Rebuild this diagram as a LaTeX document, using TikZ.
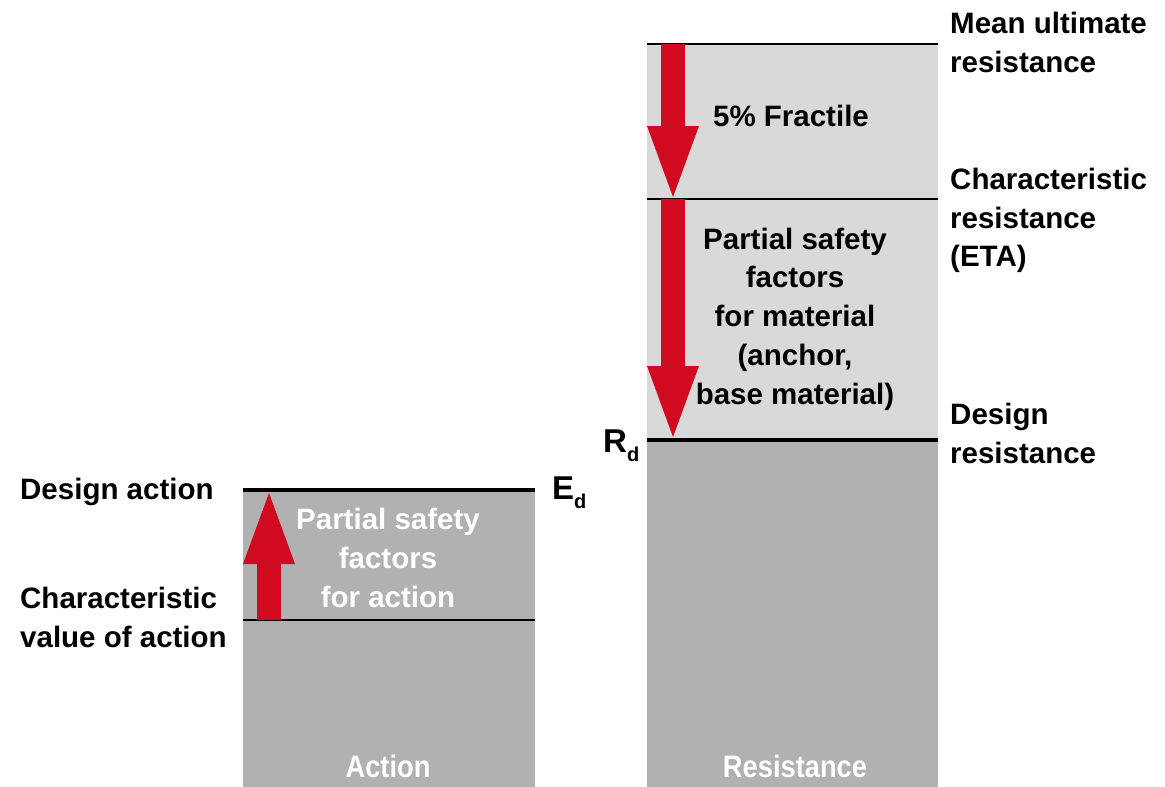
\documentclass[tikz,border=0pt]{standalone}
\usepackage{fontspec}
\setmainfont{Liberation Sans}
\newfontfamily\estrecha{Liberation Sans}[FakeStretch=0.88]
\usetikzlibrary{arrows.meta}
\definecolor{grisclaro}{HTML}{D9D9D9}
\definecolor{grisoscuro}{HTML}{B1B1B1}
\definecolor{rojo}{HTML}{D20A1F}
\tikzset{
  etiq/.style={font=\fontsize{29.5}{38.5}\selectfont\bfseries, align=left,
    inner sep=0pt, anchor=north west},
  centro/.style={font=\fontsize{29.5}{38.8}\selectfont\bfseries, align=center,
    inner sep=0pt},
  simbolo/.style={font=\fontsize{33}{33}\selectfont\bfseries, inner sep=0pt,
    anchor=base west},
  pie/.style={font=\estrecha\fontsize{31}{31}\selectfont\bfseries,
    text=white, inner sep=0pt},
  flecha/.style={rojo, line width=24pt,
    -{Triangle[width=52pt, length=71pt, line width=0pt]}},
  fina/.style={line width=1.5pt},
  gruesa/.style={line width=4.5pt}
}
\newcommand{\subd}{{\fontsize{20}{20}\selectfont\raisebox{-9pt}{d}}}

\begin{document}
\begin{tikzpicture}[x=1pt, y=-1pt]
  \useasboundingbox (0,0) rectangle (1165,787);
  % Columnas
  \fill[grisoscuro] (243,490) rectangle (535,787);
  \fill[grisclaro] (647,44) rectangle (938,440);
  \fill[grisoscuro] (647,440) rectangle (938,787);
  % Lineas
  \draw[fina] (243,620) -- (535,620);
  \draw[gruesa] (243,490) -- (535,490);
  \draw[fina] (647,44) -- (938,44);
  \draw[fina] (647,199) -- (938,199);
  \draw[gruesa] (647,440) -- (938,440);
  % Flechas
  \coordinate (a0) at (269,620);
  \coordinate (a1) at (269,493);
  \coordinate (r0) at (673,44);
  \coordinate (r1) at (673,197);
  \coordinate (r2) at (673,199);
  \coordinate (r3) at (673,437);
  \draw[flecha] (a0) -- (a1);
  \draw[flecha] (r0) -- (r1);
  \draw[flecha] (r2) -- (r3);
  % Textos
  \node[etiq] (media) at (950,12) {Mean ultimate\\resistance};
  \node[etiq] (caract) at (950,168) {Characteristic\\resistance\\(ETA)};
  \node[etiq] (disenoR) at (950,403) {Design\\resistance};
  \node[etiq] (disenoE) at (20,478) {Design action};
  \node[etiq] (valorE) at (20,587) {Characteristic\\value of action};
  \node[centro] (fractil) at (791,116) {5\% Fractile};
  \node[centro] (material) at (795,319) {Partial safety\\factors\\for material\\(anchor,\\base material)};
  \node[centro, text=white] (accionF) at (388,558) {Partial safety\\factors\\for action};
  \node[simbolo] (rd) at (603,452) {R\subd};
  \node[simbolo] (ed) at (552,499) {E\subd};
  \node[pie] (accion) at (388,766) {Action};
  \node[pie] (resist) at (795,766) {Resistance};
\end{tikzpicture}
\end{document}
